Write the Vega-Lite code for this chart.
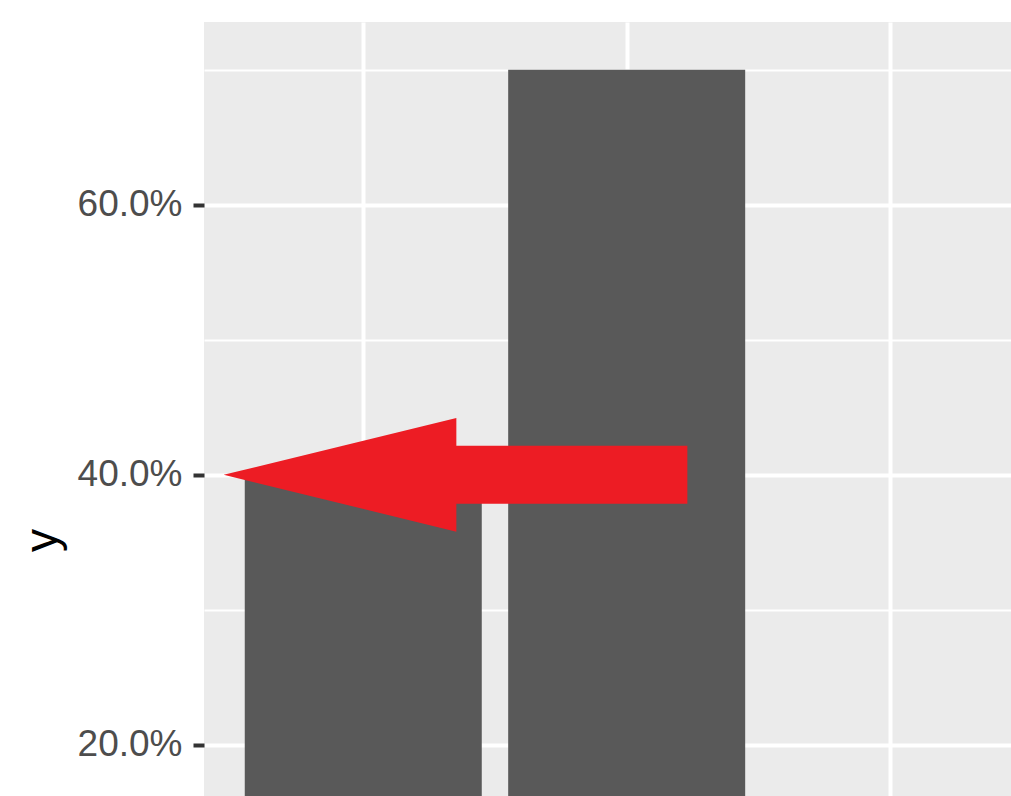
{
  "$schema": "https://vega.github.io/schema/vega-lite/v6.json",
  "width": 807,
  "height": 774,
  "autosize": {"type": "none"},
  "padding": {"left": 204, "top": 22, "right": 0, "bottom": 0},
  "background": "white",
  "config": {
    "view": {"fill": "#EBEBEB", "stroke": null},
    "font": "Liberation Sans"
  },
  "resolve": {"axis": {"y": "independent"}},
  "layer": [
    {
      "data": {"values": [{"x": 1, "y": 0.4}, {"x": 2, "y": 0.7}]},
      "mark": {"type": "bar", "width": 237, "color": "#595959", "clip": true},
      "encoding": {
        "x": {
          "field": "x",
          "type": "quantitative",
          "scale": {"domain": [0.3954, 3.459], "nice": false, "zero": false, "padding": 0},
          "axis": {
            "values": [1, 2, 3],
            "grid": true,
            "gridColor": "white",
            "gridWidth": 4,
            "labels": false,
            "ticks": false,
            "domain": false,
            "title": null
          }
        },
        "y": {
          "field": "y",
          "type": "quantitative",
          "stack": null,
          "scale": {"domain": [0.1622, 0.7353], "nice": false, "zero": false, "padding": 0},
          "axis": {
            "orient": "left",
            "values": [0.2, 0.4, 0.6],
            "format": ".1%",
            "grid": true,
            "gridColor": "white",
            "gridWidth": 4,
            "domain": false,
            "tickColor": "#333333",
            "tickSize": 11,
            "tickWidth": 4,
            "labelPadding": 11,
            "labelFontSize": 37,
            "labelColor": "#4D4D4D",
            "title": "y",
            "titleFontSize": 46,
            "titleFontWeight": "normal",
            "titleColor": "black",
            "titlePadding": 11,
            "titleY": 518
          }
        }
      }
    },
    {
      "data": {"values": [{"x": 0.47, "y": 0.4}]},
      "mark": {
        "type": "point",
        "shape": "M0,0 L2.327,-0.568 L2.327,-0.29 L4.637,-0.29 L4.637,0.29 L2.327,0.29 L2.327,0.568 Z",
        "size": 40000,
        "filled": true,
        "color": "#ED1C24",
        "opacity": 1,
        "strokeWidth": 0,
        "clip": true
      },
      "encoding": {
        "x": {"field": "x", "type": "quantitative"},
        "y": {
          "field": "y",
          "type": "quantitative",
          "axis": {
            "orient": "left",
            "values": [0.3, 0.5, 0.7],
            "grid": true,
            "gridColor": "white",
            "gridWidth": 2,
            "labels": false,
            "ticks": false,
            "domain": false,
            "title": null
          }
        }
      }
    }
  ]
}
